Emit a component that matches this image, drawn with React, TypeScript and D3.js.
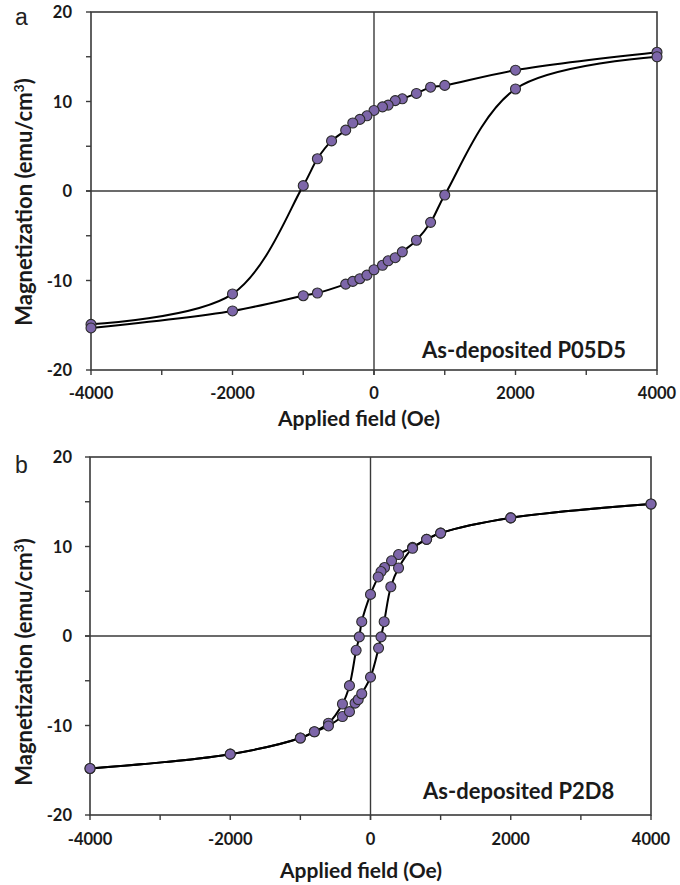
import React from "react";
import * as d3 from "d3";

// ---------- Data ----------
const xTicks = [-4000, -2000, 0, 2000, 4000];
const xMinorTicks = [-4000, -3000, -2000, -1000, 0, 1000, 2000, 3000, 4000];
const yTicks = [-20, -10, 0, 10, 20];
const yMinorTicks = [-20, -15, -10, -5, 0, 5, 10, 15, 20];

// Panel a: As-deposited P05D5
const aDescH = [4000, 2000, 1000, 800, 600, 400, 300, 200, 120, 0, -100, -200, -300, -400, -600, -800, -1000, -2000, -4000];
const aDescM = [15.5, 13.5, 11.8, 11.6, 10.9, 10.3, 10.1, 9.6, 9.4, 9.0, 8.4, 8.0, 7.6, 6.8, 5.6, 3.6, 0.6, -11.5, -14.9];
const aAscH = [-4000, -2000, -1000, -800, -400, -300, -200, -100, 0, 120, 200, 300, 400, 600, 800, 1000, 2000, 4000];
const aAscM = [-15.3, -13.4, -11.7, -11.4, -10.4, -10.1, -9.8, -9.4, -8.8, -8.3, -7.8, -7.45, -6.8, -5.5, -3.5, -0.45, 11.4, 15.0];

// Panel b: As-deposited P2D8
const bDescH = [4000, 2000, 1000, 800, 600, 400, 300, 200, 150, 110, 0, -125, -160, -205, -300, -400, -600, -800, -1000, -2000, -4000];
const bDescM = [14.75, 13.2, 11.5, 10.8, 9.9, 9.1, 8.4, 7.65, 7.2, 6.6, 4.65, 1.6, -0.1, -1.6, -5.55, -7.6, -9.75, -10.7, -11.4, -13.2, -14.8];
const bAscH = [-4000, -2000, -1000, -800, -600, -400, -300, -220, -175, -125, 0, 115, 150, 195, 290, 400, 600, 800, 1000, 2000, 4000];
const bAscM = [-14.8, -13.2, -11.4, -10.7, -10.05, -9.0, -8.45, -7.5, -7.1, -6.45, -4.6, -1.35, -0.1, 1.6, 5.5, 7.6, 9.8, 10.8, 11.5, 13.2, 14.75];

const xLabel = "Applied field (Oe)";
const yLabelMain = "Magnetization (emu/cm";
const yLabelSup = "3";

const FONT = "Lato, 'Open Sans', sans-serif";
const FRAME = "#3a3a3a";
const MARKER = "#7d66a9";

type PanelProps = {
  top: number; bottom: number; left: number; right: number;
  letter: string; letterY: number;
  series: { h: number[]; m: number[] }[];
  note: string; noteX: number; noteY: number;
  yLabelCY: number; xLabelCX: number; xLabelY: number; tickLabelY: number;
};

function Panel(p: PanelProps) {
  const x = d3.scaleLinear().domain([-4000, 4000]).range([p.left, p.right]);
  const y = d3.scaleLinear().domain([-20, 20]).range([p.bottom, p.top]);
  const line = d3
    .line<[number, number]>()
    .x((d) => x(d[0]))
    .y((d) => y(d[1]))
    .curve(d3.curveCatmullRom.alpha(0.5));
  const pts = p.series.map((s) => s.h.map((h, i) => [h, s.m[i]] as [number, number]));
  return (
    <g>
      <text x={15} y={p.letterY} fontFamily="'Liberation Sans', Arial, sans-serif" fontSize={23} fill="#222">
        {p.letter}
      </text>
      {/* frame */}
      <rect x={p.left} y={p.top} width={p.right - p.left} height={p.bottom - p.top} fill="none" stroke={FRAME} strokeWidth={1.6} />
      {/* zero lines */}
      <line x1={x(0)} x2={x(0)} y1={p.top} y2={p.bottom + 5} stroke={FRAME} strokeWidth={1.4} />
      <line x1={p.left - 5} x2={p.right} y1={y(0)} y2={y(0)} stroke={FRAME} strokeWidth={1.4} />
      {/* ticks */}
      {xMinorTicks.map((t) => (
        <line key={"xt" + t} x1={x(t)} x2={x(t)} y1={p.bottom} y2={p.bottom + 5} stroke={FRAME} strokeWidth={1.4} />
      ))}
      {yMinorTicks.map((t) => (
        <line key={"yt" + t} x1={p.left - 5} x2={p.left} y1={y(t)} y2={y(t)} stroke={FRAME} strokeWidth={1.4} />
      ))}
      {xTicks.map((t) => (
        <text key={"xl" + t} x={x(t)} y={p.tickLabelY} textAnchor="middle" dominantBaseline="central"
          fontFamily={FONT} fontWeight="bold" fontSize={16.5} fill="#1a1a1a">
          {t}
        </text>
      ))}
      {yTicks.map((t) => (
        <text key={"yl" + t} x={72} y={y(t)} textAnchor="end" dominantBaseline="central"
          fontFamily={FONT} fontWeight="bold" fontSize={16.5} fill="#1a1a1a">
          {t}
        </text>
      ))}
      {/* curves */}
      {pts.map((d, i) => (
        <path key={"c" + i} d={line(d) || ""} fill="none" stroke="#000" strokeWidth={2} />
      ))}
      {pts.map((d, i) =>
        d.map((q, j) => (
          <circle key={"m" + i + "-" + j} cx={x(q[0])} cy={y(q[1])} r={5} fill={MARKER} stroke="#2b2b2b" strokeWidth={1.1} />
        ))
      )}
      <text x={p.noteX} y={p.noteY} dominantBaseline="central" fontFamily={FONT} fontWeight="bold" fontSize={22} fill="#1a1a1a">
        {p.note}
      </text>
      <text x={p.xLabelCX} y={p.xLabelY} textAnchor="middle" fontFamily={FONT} fontWeight="bold" fontSize={21} fill="#1a1a1a">
        {xLabel}
      </text>
      <text transform={`translate(32,${p.yLabelCY}) rotate(-90)`} textAnchor="middle"
        fontFamily={FONT} fontWeight="bold" fontSize={22} fill="#1a1a1a">
        {yLabelMain}
        <tspan fontSize={14} dy={-8}>{yLabelSup}</tspan>
        <tspan dy={8}>)</tspan>
      </text>
    </g>
  );
}

export default function App() {
  return (
    <div style={{ position: "absolute", left: 0, top: 0 }}>
      <svg width={680} height={885} style={{ display: "block", background: "#fff" }}>
        <Panel
          top={12} bottom={370} left={91} right={657}
          letter="a" letterY={25}
          series={[{ h: aDescH, m: aDescM }, { h: aAscH, m: aAscM }]}
          note="As-deposited P05D5" noteX={422} noteY={349}
          yLabelCY={202} xLabelCX={359} xLabelY={426} tickLabelY={393}
        />
        <Panel
          top={457} bottom={815} left={90} right={651}
          letter="b" letterY={473}
          series={[{ h: bDescH, m: bDescM }, { h: bAscH, m: bAscM }]}
          note="As-deposited P2D8" noteX={423} noteY={790}
          yLabelCY={662} xLabelCX={361} xLabelY={878} tickLabelY={839}
        />
      </svg>
    </div>
  );
}
